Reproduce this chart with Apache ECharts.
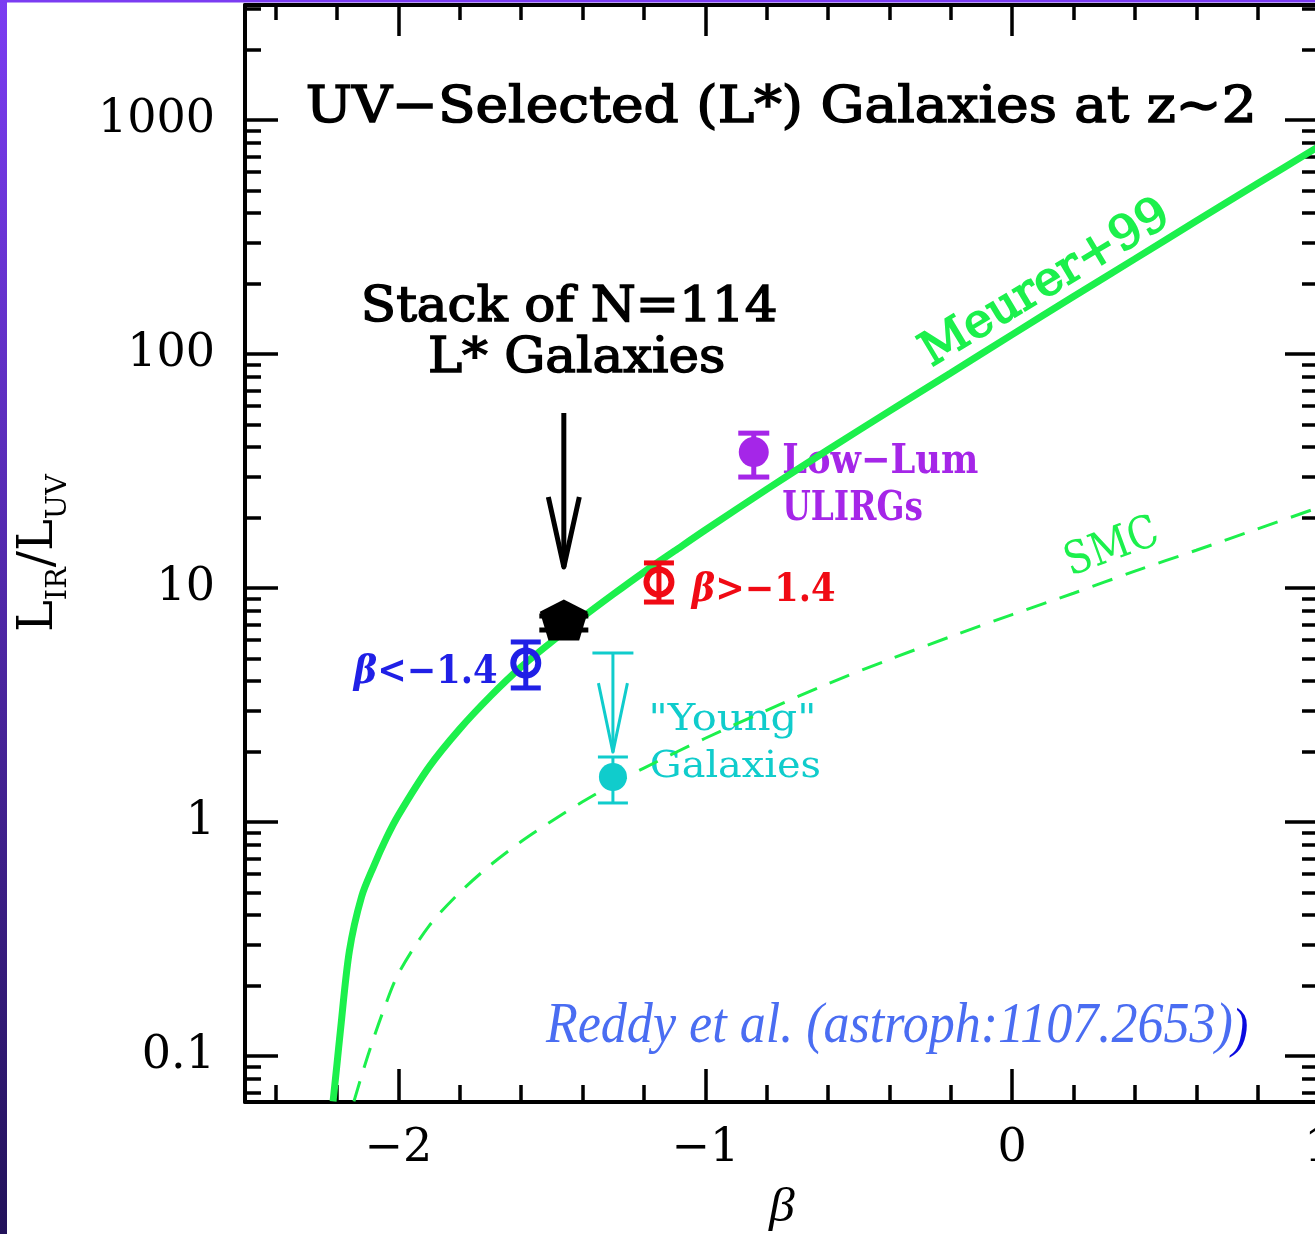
<!DOCTYPE html>
<html><head><meta charset="utf-8">
<script src="https://cdn.jsdelivr.net/npm/echarts@6/dist/echarts.min.js"></script>
<style>html,body{margin:0;padding:0;background:#fff;}#chart{width:1315px;height:1234px;}</style>
</head><body><div id="chart"></div>
<script>
// ---------------- data ----------------
const betaRange = [-2.5, 1];
const ratioRange = [0.0636, 3101];
const betaMajorTicks = [-2, -1, 0, 1];
const betaMajorLabels = ['−2', '−1', '0', '1'];
const betaMinorTicks = [-2.4, -2.2, -1.8, -1.6, -1.4, -1.2, -0.8, -0.6, -0.4, -0.2, 0.2, 0.4, 0.6, 0.8];
const ratioMajorTicks = [0.1, 1, 10, 100, 1000];
const ratioMajorLabels = ['0.1', '1', '10', '100', '1000'];
const ratioMinorTicks = [0.07, 0.08, 0.09, 0.2, 0.3, 0.4, 0.5, 0.6, 0.7, 0.8, 0.9,
  2, 3, 4, 5, 6, 7, 8, 9, 20, 30, 40, 50, 60, 70, 80, 90,
  200, 300, 400, 500, 600, 700, 800, 900, 2000, 3000];

const meurerBeta  = [-2.213, -2.2, -2.19, -2.16, -2.12, -2.08, -2.04, -2.0, -1.9, -1.8, -1.7, -1.6, -1.5, -1.4, -1.3, -1.2, -1.1, -1.0, -0.8, -0.6, -0.4, -0.2, 0, 0.2, 0.4, 0.6, 0.8, 1.0];
const meurerRatio = [0.064, 0.093, 0.125, 0.28, 0.48, 0.65, 0.85, 1.07, 1.72, 2.5, 3.45, 4.6, 5.9, 7.5, 9.4, 11.7, 14.4, 17.7, 26.4, 39, 57, 83, 121, 176, 255, 370, 535, 772];

const smcBeta  = [-2.145, -2.1, -2.05, -2.0, -1.9, -1.8, -1.7, -1.6, -1.5, -1.4, -1.3, -1.2, -1.0, -0.8, -0.6, -0.4, -0.2, 0, 0.2, 0.4, 0.6, 0.8, 1.0];
const smcRatio = [0.064, 0.1, 0.155, 0.225, 0.36, 0.5, 0.655, 0.825, 1.01, 1.22, 1.45, 1.7, 2.28, 3.0, 3.9, 4.95, 6.2, 7.7, 9.5, 11.8, 14.5, 17.9, 22.1];

// [beta, value]  /  [beta, low, high]
const stackPoint  = [[-1.461, 7.3]];
const stackErr    = [[-1.461, 6.62, 7.6]];
const stackArrow  = [[-1.461, 56, 12.3]];      // shaft top, arrow tip
const bluePoint   = [[-1.585, 4.78]];
const blueErr     = [[-1.585, 3.74, 5.88]];
const redPoint    = [[-1.151, 10.6]];
const redErr      = [[-1.151, 8.71, 12.8]];
const purplePoint = [[-0.842, 38.1]];
const purpleErr   = [[-0.842, 29.8, 45.9]];
const cyanPoint   = [[-1.301, 1.557]];
const cyanErr     = [[-1.301, 1.206, 1.896]];
const cyanLimit   = [[-1.301, 5.28, 1.99]];     // upper limit top, arrow tip

// ---------------- styles ----------------
const GREEN = '#1cf04c', BLUE = '#2020e6', RED = '#f00a14', PURPLE = '#a526e8', CYAN = '#10cccc', REF = '#4a6df2';
const TICKFONT = 'DejaVu Serif';

const mctx = document.createElement('canvas').getContext('2d');
function fontStr(st, wt, size, fam) { return st + ' ' + wt + ' ' + size + 'px ' + fam; }
function measure(text, st, wt, size, fam, baseline) {
  mctx.font = fontStr(st, wt, size, fam);
  mctx.textBaseline = baseline || 'alphabetic';
  return mctx.measureText(text);
}
// Text block fitted to an ink box: x,y = baseline start, len = ink length, cap = cap height
function label(runs, o) {
  const st0 = o.style || 'normal', wt0 = o.weight || 'normal';
  const capR = measure('H', st0, wt0, 100, o.family).actualBoundingBoxAscent / 100;
  const base = o.cap / capR;
  let adv = 0, inkL = 0, inkR = 0;
  const placed = [];
  runs.forEach((r, i) => {
    const st = r.style || st0, wt = r.weight || wt0;
    const size = base * (r.mul || 1);
    const m = measure(r.text, st, wt, size, o.family);
    if (i === 0) inkL = m.actualBoundingBoxLeft;
    if (i === runs.length - 1) inkR = adv + m.actualBoundingBoxRight;
    const mid = measure('H', st, wt, size, o.family, 'middle').actualBoundingBoxDescent;
    placed.push({ r, st, wt, size, off: adv, mid });
    adv += m.width;
  });
  const s = o.len / (inkL + inkR);
  return {
    type: 'group', x: o.x, y: o.y, rotation: o.rotation || 0, silent: true,
    children: placed.map(p => {
      const style = {
        text: p.r.text, fontFamily: o.family, fontSize: p.size, fontWeight: p.wt, fontStyle: p.st,
        fill: p.r.color || o.color, align: 'left', verticalAlign: 'middle',
        textAlign: 'left', textVerticalAlign: 'middle'
      };
      if (o.strokeW) { style.stroke = o.color; style.lineWidth = o.strokeW; }
      return { type: 'text', x: (inkL + p.off) * s, y: (p.r.dy || 0) - p.mid, scaleX: s, silent: true, style };
    })
  };
}

function errorBarSeries(data, color, lw, capW) {
  return {
    type: 'custom', xAxisIndex: 0, yAxisIndex: 0, data, z: 4, silent: true, encode: { x: 0, y: [1, 2] },
    renderItem(p, api) {
      const lo = api.coord([api.value(0), api.value(1)]);
      const hi = api.coord([api.value(0), api.value(2)]);
      const st = { stroke: color, lineWidth: lw, fill: null };
      return { type: 'group', children: [
        { type: 'line', shape: { x1: lo[0], y1: lo[1], x2: hi[0], y2: hi[1] }, style: st },
        { type: 'line', shape: { x1: lo[0] - capW / 2, y1: lo[1], x2: lo[0] + capW / 2, y2: lo[1] }, style: st },
        { type: 'line', shape: { x1: hi[0] - capW / 2, y1: hi[1], x2: hi[0] + capW / 2, y2: hi[1] }, style: st }
      ] };
    }
  };
}
function arrowSeries(data, color, lw, headW, headL, capW) {
  return {
    type: 'custom', xAxisIndex: 0, yAxisIndex: 0, data, z: 4, silent: true, encode: { x: 0, y: [1, 2] },
    renderItem(p, api) {
      const top = api.coord([api.value(0), api.value(1)]);
      const tip = api.coord([api.value(0), api.value(2)]);
      const st = { stroke: color, lineWidth: lw, fill: null, lineJoin: 'round' };
      const ch = [
        { type: 'line', shape: { x1: top[0], y1: top[1], x2: tip[0], y2: tip[1] }, style: st },
        { type: 'polyline', shape: { points: [[tip[0] - headW / 2, tip[1] - headL], [tip[0], tip[1]], [tip[0] + headW / 2, tip[1] - headL]] }, style: st }
      ];
      if (capW) ch.push({ type: 'line', shape: { x1: top[0] - capW / 2, y1: top[1], x2: top[0] + capW / 2, y2: top[1] }, style: st });
      return { type: 'group', children: ch };
    }
  };
}

const zip = (a, b) => a.map((v, i) => [v, b[i]]);
const L10 = v => Math.log10(v);
function labelFor(ticks, labels, v, tf) {
  const i = ticks.findIndex(t => Math.abs(tf(t) - v) < 1e-6);
  return i >= 0 ? labels[i] : '';
}

const tickLine = { color: '#000', width: 3.5 };
function xAx(pos, ticks, len, showLine, showLabel) {
  return {
    type: 'value', position: pos, min: betaRange[0], max: betaRange[1],
    axisLine: { show: showLine, onZero: false, lineStyle: { color: '#000', width: 4 } },
    axisTick: { show: true, inside: true, length: len, customValues: ticks, lineStyle: tickLine },
    axisLabel: showLabel ? {
      show: true, customValues: ticks, margin: 24, fontFamily: TICKFONT, fontSize: 46, color: '#000',
      formatter: v => labelFor(betaMajorTicks, betaMajorLabels, v, t => t)
    } : { show: false },
    splitLine: { show: false }
  };
}
function yAx(pos, ticks, len, showLabel) {
  const tv = ticks.map(L10);
  return {
    type: 'value', position: pos, min: L10(ratioRange[0]), max: L10(ratioRange[1]),
    axisLine: { show: false, onZero: false },
    axisTick: { show: true, inside: true, length: len, customValues: tv, lineStyle: tickLine },
    axisLabel: showLabel ? {
      show: true, customValues: tv, margin: 30, fontFamily: TICKFONT, fontSize: 46, color: '#000',
      formatter: v => labelFor(ratioMajorTicks, ratioMajorLabels, v, L10)
    } : { show: false },
    splitLine: { show: false }
  };
}

const graphics = [
  { type: 'rect', shape: { x: 0, y: 0, width: 7, height: 1234 }, silent: true,
    style: { fill: new echarts.graphic.LinearGradient(0, 0, 0, 1, [{ offset: 0, color: '#7b3cf2' }, { offset: 1, color: '#22125a' }]) } },
  { type: 'rect', shape: { x: 0, y: 0, width: 1315, height: 2.5 }, silent: true, style: { fill: '#7b3cf2' } },
  label([{ text: 'UV−Selected (L*) Galaxies at z~2' }], { x: 308, y: 122, len: 944, cap: 37, family: 'DejaVu Serif', color: '#000', strokeW: 1.5 }),
  label([{ text: 'Stack of N=114' }], { x: 365, y: 321, len: 410, cap: 36, family: 'DejaVu Serif', color: '#000', strokeW: 1.5 }),
  label([{ text: 'L* Galaxies' }], { x: 430, y: 372, len: 293, cap: 36, family: 'DejaVu Serif', color: '#000', strokeW: 1.5 }),
  label([{ text: 'Meurer+99' }], { x: 933, y: 366, len: 277, cap: 34, family: 'DejaVu Serif', color: GREEN, strokeW: 1.8, rotation: 31 * Math.PI / 180 }),
  label([{ text: 'Low−Lum' }], { x: 783, y: 473, len: 195, cap: 30, family: 'DejaVu Serif', weight: 'bold', color: PURPLE }),
  label([{ text: 'ULIRGs' }], { x: 783, y: 520, len: 139, cap: 30, family: 'DejaVu Serif', weight: 'bold', color: PURPLE }),
  label([{ text: 'β', style: 'italic' }, { text: '>−1.4' }], { x: 690, y: 601, len: 145, cap: 28, family: 'DejaVu Serif', weight: 'bold', color: RED }),
  label([{ text: 'β', style: 'italic' }, { text: '<−1.4' }], { x: 352, y: 683, len: 145, cap: 28, family: 'DejaVu Serif', weight: 'bold', color: BLUE }),
  label([{ text: '"Young"' }], { x: 652, y: 730, len: 161, cap: 27, family: 'DejaVu Serif', color: CYAN }),
  label([{ text: 'Galaxies' }], { x: 652, y: 777, len: 168, cap: 27, family: 'DejaVu Serif', color: CYAN }),
  label([{ text: 'SMC' }], { x: 1073, y: 575, len: 92, cap: 33, family: 'DejaVu Serif', color: GREEN, rotation: 20 * Math.PI / 180 }),
  label([{ text: 'Reddy et al. (astroph:1107.2653)' }], { x: 545, y: 1042, len: 687, cap: 37, family: 'Liberation Serif', style: 'italic', color: REF }),
  label([{ text: ')' }], { x: 1229, y: 1046, len: 18, cap: 36, family: 'Liberation Serif', style: 'italic', color: '#0a0ae0' }),
  label([{ text: 'β' }], { x: 768, y: 1221, len: 27, cap: 31, family: 'Liberation Serif', style: 'italic', color: '#000' }),
  label([{ text: 'L' }, { text: 'IR', mul: 0.6, dy: 14 }, { text: '/' }, { text: 'L' }, { text: 'UV', mul: 0.6, dy: 14 }],
        { x: 52, y: 630, len: 157, cap: 35, family: 'DejaVu Serif', color: '#000', rotation: Math.PI / 2 })
];

const option = {
  animation: false,
  backgroundColor: '#fff',
  grid: { left: 245, top: 5, width: 1074, height: 1097, containLabel: false, outerBoundsMode: 'none' },
  xAxis: [
    xAx('bottom', betaMajorTicks, 33, true, true),
    xAx('bottom', betaMinorTicks, 17, false, false),
    xAx('top', betaMajorTicks, 31, true, false),
    xAx('top', betaMinorTicks, 15, false, false)
  ],
  yAxis: [
    { type: 'log', logBase: 10, position: 'left', min: ratioRange[0], max: ratioRange[1],
      axisLine: { show: true, onZero: false, lineStyle: { color: '#000', width: 4 } },
      axisTick: { show: false }, axisLabel: { show: false }, splitLine: { show: false } },
    yAx('left', ratioMajorTicks, 33, true),
    yAx('left', ratioMinorTicks, 16, false),
    yAx('right', ratioMajorTicks, 34, false),
    yAx('right', ratioMinorTicks, 17, false)
  ],
  graphic: graphics,
  series: [
    { type: 'line', xAxisIndex: 0, yAxisIndex: 0, data: zip(meurerBeta, meurerRatio), symbol: 'none', smooth: 0.3,
      lineStyle: { color: GREEN, width: 7 }, clip: true, silent: true, z: 3 },
    { type: 'line', xAxisIndex: 0, yAxisIndex: 0, data: zip(smcBeta, smcRatio), symbol: 'none', smooth: 0.3,
      lineStyle: { color: GREEN, width: 3, type: [21, 14] }, clip: true, silent: true, z: 3 },
    errorBarSeries(stackErr, '#000', 5, 49),
    errorBarSeries(blueErr, BLUE, 5, 30),
    errorBarSeries(redErr, RED, 5, 30),
    errorBarSeries(purpleErr, PURPLE, 5, 31),
    errorBarSeries(cyanErr, CYAN, 3, 30),
    arrowSeries(cyanLimit, CYAN, 3, 29, 69, 41),
    arrowSeries(stackArrow, '#000', 5, 31, 70, 0),
    { type: 'scatter', xAxisIndex: 0, yAxisIndex: 0, data: stackPoint, symbol: 'path://M50 0 L100 30 L82 100 L18 100 L0 30 Z',
      symbolSize: [48, 41], symbolKeepAspect: false, itemStyle: { color: '#000', opacity: 1 }, silent: true, z: 5 },
    { type: 'scatter', xAxisIndex: 0, yAxisIndex: 0, data: bluePoint, symbol: 'circle', symbolSize: 25,
      itemStyle: { color: 'rgba(0,0,0,0)', borderColor: BLUE, borderWidth: 6, opacity: 1 }, silent: true, z: 5 },
    { type: 'scatter', xAxisIndex: 0, yAxisIndex: 0, data: redPoint, symbol: 'circle', symbolSize: 25,
      itemStyle: { color: 'rgba(0,0,0,0)', borderColor: RED, borderWidth: 6, opacity: 1 }, silent: true, z: 5 },
    { type: 'scatter', xAxisIndex: 0, yAxisIndex: 0, data: purplePoint, symbol: 'circle', symbolSize: 30,
      itemStyle: { color: PURPLE, opacity: 1 }, silent: true, z: 5 },
    { type: 'scatter', xAxisIndex: 0, yAxisIndex: 0, data: cyanPoint, symbol: 'circle', symbolSize: 28,
      itemStyle: { color: CYAN, opacity: 1 }, silent: true, z: 5 }
  ]
};

const chart = echarts.init(document.getElementById('chart'), null, { renderer: 'canvas', width: 1315, height: 1234 });
chart.setOption(option);
</script>
</body></html>
